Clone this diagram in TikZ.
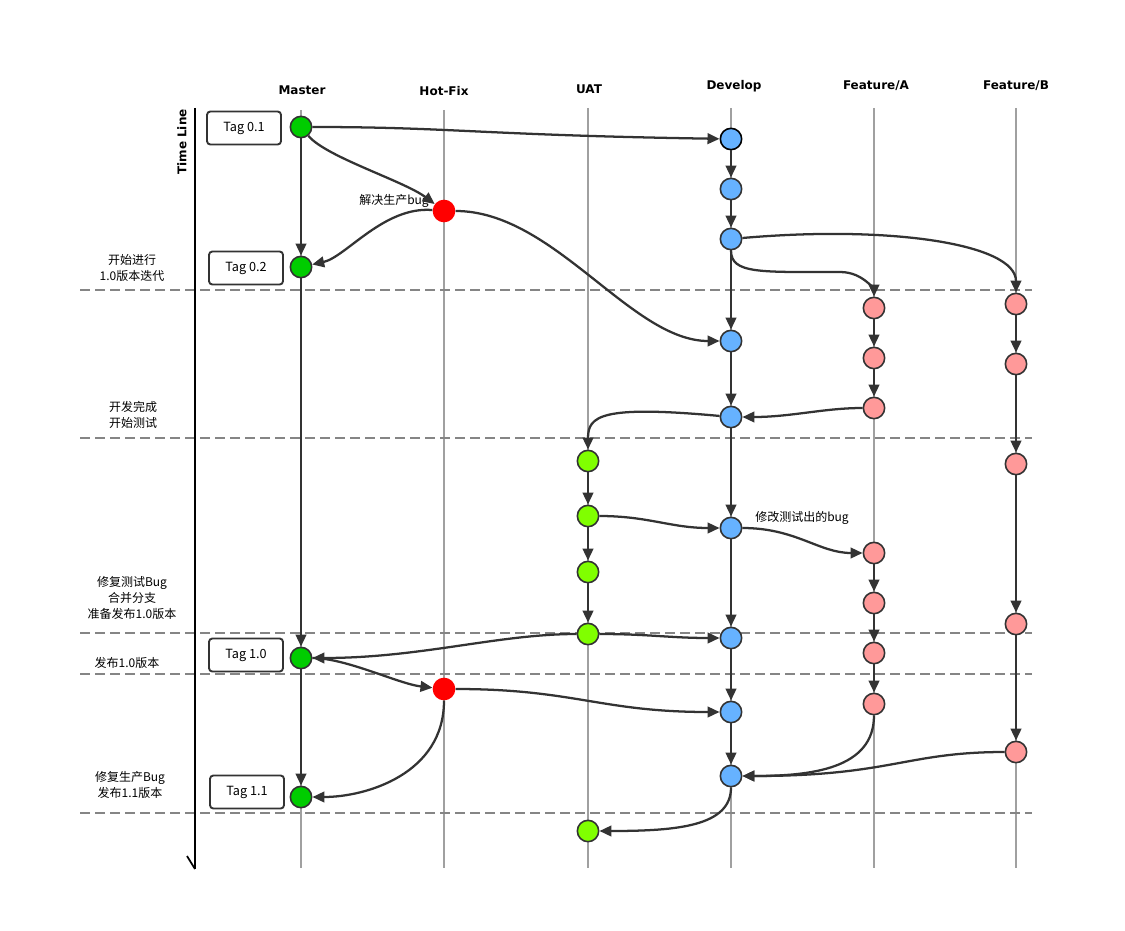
\documentclass[tikz,border=0pt]{standalone}
\usepackage{fontspec}
\setmainfont{Noto Sans CJK SC}
\newfontfamily\headfont{DejaVu Sans}
\usetikzlibrary{arrows.meta}
\definecolor{mgreen}{HTML}{00CC00}
\definecolor{hred}{HTML}{FF0000}
\definecolor{ulime}{HTML}{80FF00}
\definecolor{dblue}{HTML}{66B2FF}
\definecolor{fpink}{HTML}{FF9999}
\definecolor{edgec}{HTML}{333333}
\definecolor{laneg}{HTML}{A0A0A0}
\definecolor{sepg}{HTML}{858585}
\tikzset{
  commit/.style={circle, draw=edgec, line width=1.2pt, minimum size=16pt, inner sep=0pt},
  mnode/.style={commit, fill=mgreen},
  hnode/.style={circle, draw=none, fill=hred, minimum size=17pt, inner sep=0pt},
  unode/.style={commit, fill=ulime},
  dnode/.style={commit, fill=dblue},
  anode/.style={commit, fill=fpink},
  lane/.style={draw=laneg, line width=1.5pt},
  sepline/.style={draw=sepg, line width=1.5pt, dash pattern=on 7.5pt off 3.75pt},
  flow/.style={draw=edgec, line width=1.7pt, -{Triangle[length=9pt,width=8pt]}},
  tagbox/.style={draw=edgec, rounded corners=2.5pt, line width=1.4pt, minimum width=55.5pt, minimum height=24.75pt, font=\fontsize{9.5}{11}\selectfont, inner sep=0pt},
  head/.style={font=\headfont\bfseries\fontsize{9}{11}\selectfont, inner sep=0pt},
  lbl/.style={font=\fontsize{9}{12}\selectfont, align=center, inner sep=0pt}
}
\begin{document}
\begin{tikzpicture}[x=0.75pt,y=-0.75pt]
\useasboundingbox (0,0) rectangle (1125,931);
% lanes
\coordinate (lmt) at (301,110); \coordinate (lmb) at (301,868);
\coordinate (lht) at (444,110); \coordinate (lhb) at (444,868);
\coordinate (lut) at (588,108); \coordinate (lub) at (588,868);
\coordinate (ldt) at (731,108); \coordinate (ldb) at (731,868);
\coordinate (lat) at (874,108); \coordinate (lab) at (874,868);
\coordinate (lbt) at (1016,108); \coordinate (lbb) at (1016,868);
\draw[lane] (lmt) -- (lmb);
\draw[lane] (lht) -- (lhb);
\draw[lane] (lut) -- (lub);
\draw[lane] (ldt) -- (ldb);
\draw[lane] (lat) -- (lab);
\draw[lane] (lbt) -- (lbb);
% separators
\foreach \yy/\nm in {290/s1,438/s2,633/s3,674/s4,813/s5}{
  \coordinate (\nm l) at (80,\yy); \coordinate (\nm r) at (1032,\yy);
  \draw[sepline] (\nm l) -- (\nm r);
}
% time line axis
\coordinate (tlt) at (195,108); \coordinate (tlb) at (195,869); \coordinate (tlh) at (187,856);
\draw[black, line width=1.8pt] (tlt) -- (tlb);
\draw[black, line width=1.3pt] (tlh) -- (tlb);
\node[head, rotate=90] (tl) at (182,142) {Time Line};
% headers
\node[head] (hm) at (302,90) {Master};
\node[head] (hh) at (444,91) {Hot-Fix};
\node[head] (hu) at (589,89) {UAT};
\node[head] (hd) at (734,86) {Develop};
\node[head] (ha) at (876,86) {Feature/A};
\node[head] (hb) at (1016,86) {Feature/B};
% tags
\node[tagbox] (t01) at (244,128) {Tag 0.1};
\node[tagbox] (t02) at (246,268) {Tag 0.2};
\node[tagbox] (t10) at (246,655) {Tag 1.0};
\node[tagbox] (t11) at (247,792) {Tag 1.1};
% left labels
\node[lbl] (l1) at (132,268) {开始进行\\1.0版本迭代};
\node[lbl] (l2) at (133,415) {开发完成\\开始测试};
\node[lbl] (l3) at (132,598) {修复测试Bug\\合并分支\\准备发布1.0版本};
\node[lbl] (l4) at (127,663) {发布1.0版本};
\node[lbl] (l5) at (130,785) {修复生产Bug\\发布1.1版本};
\node[lbl] (lh) at (394,201) {解决生产bug};
\node[lbl] (ld) at (802,518) {修改测试出的bug};
% commits
\node[mnode] (M1) at (301,127) {};
\node[mnode] (M2) at (301,267) {};
\node[mnode] (M3) at (301,658) {};
\node[mnode] (M4) at (301,797) {};
\node[hnode] (H1) at (444,211) {};
\node[hnode] (H2) at (444,689) {};
\node[unode] (U1) at (588,461) {};
\node[unode] (U2) at (588,516) {};
\node[unode] (U3) at (588,572) {};
\node[unode] (U4) at (588,634) {};
\node[unode] (U5) at (588,831) {};
\node[dnode, draw=black] (D1) at (731,139) {};
\node[dnode] (D2) at (731,189) {};
\node[dnode] (D3) at (731,239) {};
\node[dnode] (D4) at (731,341) {};
\node[dnode] (D5) at (731,417) {};
\node[dnode] (D6) at (731,528) {};
\node[dnode] (D7) at (731,638) {};
\node[dnode] (D8) at (731,712) {};
\node[dnode] (D9) at (731,776) {};
\node[anode] (A1) at (874,308) {};
\node[anode] (A2) at (874,358) {};
\node[anode] (A3) at (874,408) {};
\node[anode] (A4) at (874,553) {};
\node[anode] (A5) at (874,603) {};
\node[anode] (A6) at (874,653) {};
\node[anode] (A7) at (874,704) {};
\node[anode] (B1) at (1016,304) {};
\node[anode] (B2) at (1016,364) {};
\node[anode] (B3) at (1016,464) {};
\node[anode] (B4) at (1016,624) {};
\node[anode] (B5) at (1016,752) {};
% straight flows
\foreach \a/\b in {M1/M2,M2/M3,M3/M4,D1/D2,D2/D3,D3/D4,D4/D5,D5/D6,D6/D7,D7/D8,D8/D9,A1/A2,A2/A3,A4/A5,A5/A6,A6/A7,B1/B2,B2/B3,B3/B4,B4/B5,U1/U2,U2/U3,U3/U4}
  \draw[flow] (\a) -- (\b);
% curved flows
\draw[flow] (M1) .. controls +(150,0) and +(-250,-4) .. (D1);
\draw[flow] (M1) .. controls +(25,30) and +(-40,-30) .. (H1);
\draw[flow] (H1) .. controls +(-60,-5) and +(45,-10) .. (M2);
\draw[flow] (H1) .. controls +(110,0) and +(-100,0) .. (D4);
\draw[flow] (D3) .. controls +(160,-14) and +(0,-60) .. (B1);
\coordinate (da) at (840,272);
\draw[flow] (D3) .. controls +(0,35) and +(-80,0) .. (da) .. controls +(25,0) and +(0,-15) .. (A1);
\draw[flow] (A3) .. controls +(-50,0) and +(60,0) .. (D5);
\draw[flow] (D5) .. controls +(-130,-12) and +(0,-45) .. (U1);
\draw[flow] (U2) .. controls +(60,0) and +(-60,0) .. (D6);
\draw[flow] (D6) .. controls +(65,0) and +(-55,0) .. (A4);
\draw[flow] (U4) .. controls +(60,0) and +(-60,0) .. (D7);
\draw[flow] (U4) .. controls +(-90,0) and +(120,0) .. (M3);
\draw[flow] (M3) .. controls +(45,0) and +(-45,-5) .. (H2);
\draw[flow] (H2) .. controls +(130,0) and +(-130,0) .. (D8);
\draw[flow] (H2) .. controls +(0,85) and +(65,0) .. (M4);
\draw[flow] (A7) .. controls +(0,65) and +(80,0) .. (D9);
\draw[flow] (B5) .. controls +(-110,0) and +(160,0) .. (D9);
\draw[flow] (D9) .. controls +(0,50) and +(90,0) .. (U5);
\end{tikzpicture}
\end{document}
